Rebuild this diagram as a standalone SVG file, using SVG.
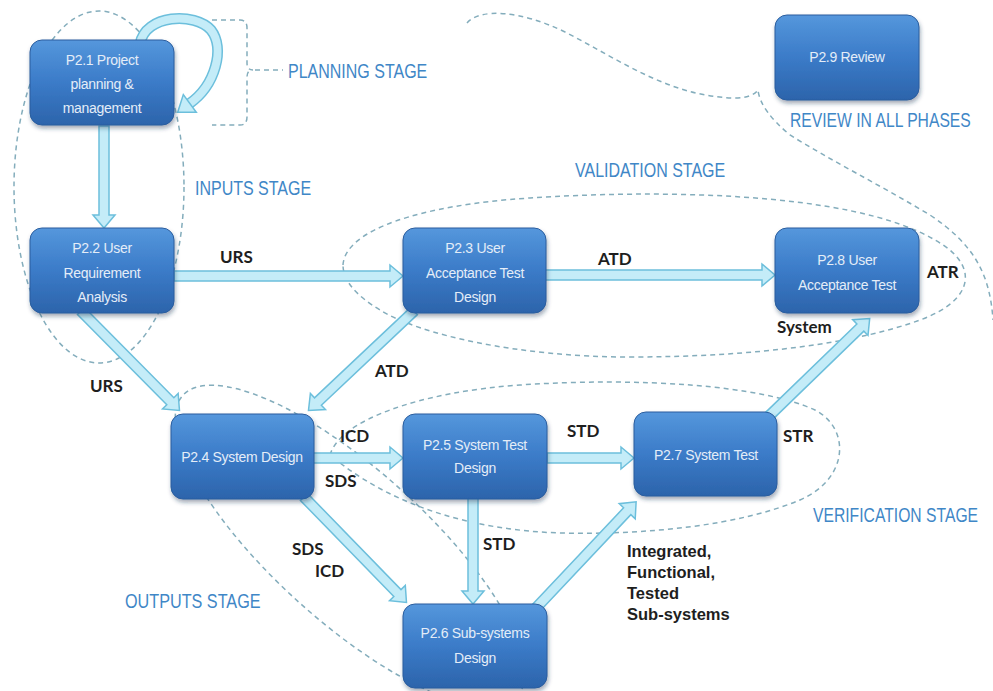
<svg xmlns="http://www.w3.org/2000/svg" width="993" height="691" viewBox="0 0 993 691">
<defs>
  <linearGradient id="boxg" x1="0" y1="0" x2="0" y2="1">
    <stop offset="0" stop-color="#5597dc"/>
    <stop offset="0.5" stop-color="#3b7bc8"/>
    <stop offset="1" stop-color="#2c64ab"/>
  </linearGradient>
  <filter id="sh" x="-10%" y="-10%" width="125%" height="130%">
    <feDropShadow dx="1" dy="3" stdDeviation="2" flood-color="#1a3050" flood-opacity="0.4"/>
  </filter>
  <style>
    .box { fill: url(#boxg); stroke: #2a5d9e; stroke-width: 1; filter: url(#sh); }
    .nt { font-family: "Liberation Sans", Arial, sans-serif; font-size: 14px; letter-spacing: -0.3px; fill: #e4edf8; text-anchor: middle; }
    .dash { fill: none; stroke: #84adbc; stroke-width: 1.5; stroke-dasharray: 5 4; }
    .arr { fill: #c4ecf8; stroke: #6cbfdc; stroke-width: 1.5; stroke-linejoin: miter; }
    .lbl { font-family: Lato, "Liberation Sans", sans-serif; font-weight: bold; font-size: 17px; fill: #1e1e1e; }
    .lbl2 { font-family: "Liberation Sans", Arial, sans-serif; font-weight: bold; font-size: 16.5px; fill: #1e1e1e; }
    .stage { font-family: "Liberation Sans", Arial, sans-serif; font-size: 20px; fill: #3f87c7; }
  </style>
</defs>
<rect width="993" height="691" fill="#ffffff"/>

<g id="stages">
  <ellipse class="dash" cx="99" cy="187" rx="85" ry="176"/>
  <path class="dash" d="M212,20 L240,20 Q247,20 247,28 L247,63 Q247,70 253,70 Q247,70 247,77 L247,117 Q247,125 240,125 L212,125"/>
  <path class="dash" d="M255,70 L283,70"/>
  <path class="dash" d="M467,23 C480,8 520,10 565,32 C620,60 670,97 735,98 Q752,98 758,90 Q760,110 790,135 C830,160 880,185 930,215 C975,245 990,275 993,320"/>
  <path class="dash" d="M343,265 C345,230 420,205 530,198 C650,190 850,190 935,240 C980,265 975,300 920,320 C860,342 760,357 630,357 C520,357 420,335 380,310 C355,295 343,280 343,265 Z"/>
  <path class="dash" d="M330,455 C340,420 420,392 520,385 C640,377 760,385 815,410 C850,428 850,478 800,500 C740,525 650,535 560,533 C470,530 390,505 330,455 Z"/>
  <ellipse class="dash" cx="350" cy="546" rx="225" ry="76" transform="rotate(42 350 546)"/>
</g>

<g id="connectors">
  <path class="arr" transform="translate(104,126) rotate(90)" d="M0,-5 H89 V-11 L102,0 L89,11 V5 H0 Z"/>
  <path class="arr" transform="translate(174,276)" d="M0,-5 H216 V-11 L229,0 L216,11 V5 H0 Z"/>
  <path class="arr" transform="translate(545,275)" d="M0,-5 H217 V-11 L230,0 L217,11 V5 H0 Z"/>
  <path class="arr" transform="translate(81,311) rotate(45.3)" d="M0,-5 H127 V-11 L140,0 L127,11 V5 H0 Z"/>
  <path class="arr" transform="translate(414,311) rotate(136.7)" d="M0,-5 H132 V-11 L145,0 L132,11 V5 H0 Z"/>
  <path class="arr" transform="translate(313,458)" d="M0,-5 H77 V-11 L90,0 L77,11 V5 H0 Z"/>
  <path class="arr" transform="translate(547,458)" d="M0,-5 H74 V-11 L87,0 L74,11 V5 H0 Z"/>
  <path class="arr" transform="translate(473,498) rotate(90)" d="M0,-5 H93 V-11 L106,0 L93,11 V5 H0 Z"/>
  <path class="arr" transform="translate(304,497) rotate(45.8)" d="M0,-5 H134 V-11 L147,0 L134,11 V5 H0 Z"/>
  <path class="arr" transform="translate(536,608) rotate(-46.7)" d="M0,-5 H133 V-11 L146,0 L133,11 V5 H0 Z"/>
  <path class="arr" transform="translate(767,418) rotate(-44.1)" d="M0,-5 H130 V-11 L143,0 L130,11 V5 H0 Z"/>
  <path d="M140,44 C145,14 195,12 211,30 C225,48 216,85 189,104" fill="none" stroke="#6cbfdc" stroke-width="11"/>
  <path d="M140,44 C145,14 195,12 211,30 C225,48 216,85 189,104" fill="none" stroke="#c4ecf8" stroke-width="8"/>
  <path class="arr" transform="translate(189,104) rotate(143.8)" d="M-1,-11 L14,0 L-1,11 Z"/>
</g>

<g id="p21"><rect class="box" x="30" y="40" width="144" height="85" rx="12"/>
  <text class="nt" x="102" y="65">P2.1 Project</text><text class="nt" x="102" y="89">planning &amp;</text><text class="nt" x="102" y="113">management</text></g>
<g id="p22"><rect class="box" x="30" y="228" width="144" height="85" rx="12"/>
  <text class="nt" x="102" y="253">P2.2 User</text><text class="nt" x="102" y="278">Requirement</text><text class="nt" x="102" y="302">Analysis</text></g>
<g id="p23"><rect class="box" x="403" y="228" width="143" height="85" rx="12"/>
  <text class="nt" x="475" y="253">P2.3 User</text><text class="nt" x="475" y="278">Acceptance  Test</text><text class="nt" x="475" y="302">Design</text></g>
<g id="p28"><rect class="box" x="775" y="228" width="144" height="85" rx="12"/>
  <text class="nt" x="847" y="265">P2.8 User</text><text class="nt" x="847" y="290">Acceptance  Test</text></g>
<g id="p24"><rect class="box" x="171" y="414" width="143" height="85" rx="12"/>
  <text class="nt" x="242" y="462">P2.4 System  Design</text></g>
<g id="p25"><rect class="box" x="403" y="414" width="144" height="85" rx="12"/>
  <text class="nt" x="475" y="450">P2.5 System  Test</text><text class="nt" x="475" y="473">Design</text></g>
<g id="p27"><rect class="box" x="634" y="412" width="143" height="84" rx="12"/>
  <text class="nt" x="706" y="460">P2.7 System  Test</text></g>
<g id="p26"><rect class="box" x="403" y="604" width="144" height="84" rx="12"/>
  <text class="nt" x="475" y="638">P2.6 Sub-systems</text><text class="nt" x="475" y="663">Design</text></g>
<g id="p29"><rect class="box" x="775" y="15" width="144" height="85" rx="12"/>
  <text class="nt" x="847" y="62">P2.9 Review</text></g>

<g id="labels">
  <text class="lbl" x="220" y="263">URS</text>
  <text class="lbl" x="90" y="392">URS</text>
  <text class="lbl" x="598" y="265">ATD</text>
  <text class="lbl" x="375" y="377">ATD</text>
  <text class="lbl" x="927" y="278">ATR</text>
  <text class="lbl" x="777" y="333">System</text>
  <text class="lbl" x="340" y="442">ICD</text>
  <text class="lbl" x="325" y="487">SDS</text>
  <text class="lbl" x="567" y="437">STD</text>
  <text class="lbl" x="483" y="550">STD</text>
  <text class="lbl" x="292" y="555">SDS</text>
  <text class="lbl" x="315" y="577">ICD</text>
  <text class="lbl" x="783" y="442">STR</text>
  <text class="lbl2" x="627" y="557">Integrated,</text>
  <text class="lbl2" x="627" y="578">Functional,</text>
  <text class="lbl2" x="627" y="599">Tested</text>
  <text class="lbl2" x="627" y="620">Sub-systems</text>
</g>

<g id="stage-labels">
  <text class="stage" transform="translate(288 78) scale(0.8 1)">PLANNING STAGE</text>
  <text class="stage" transform="translate(195 195) scale(0.8 1)">INPUTS STAGE</text>
  <text class="stage" transform="translate(575 177) scale(0.8 1)">VALIDATION STAGE</text>
  <text class="stage" transform="translate(790 127) scale(0.785 1)">REVIEW IN ALL PHASES</text>
  <text class="stage" transform="translate(813 522) scale(0.785 1)">VERIFICATION STAGE</text>
  <text class="stage" transform="translate(125 608) scale(0.81 1)">OUTPUTS STAGE</text>
</g>
</svg>
